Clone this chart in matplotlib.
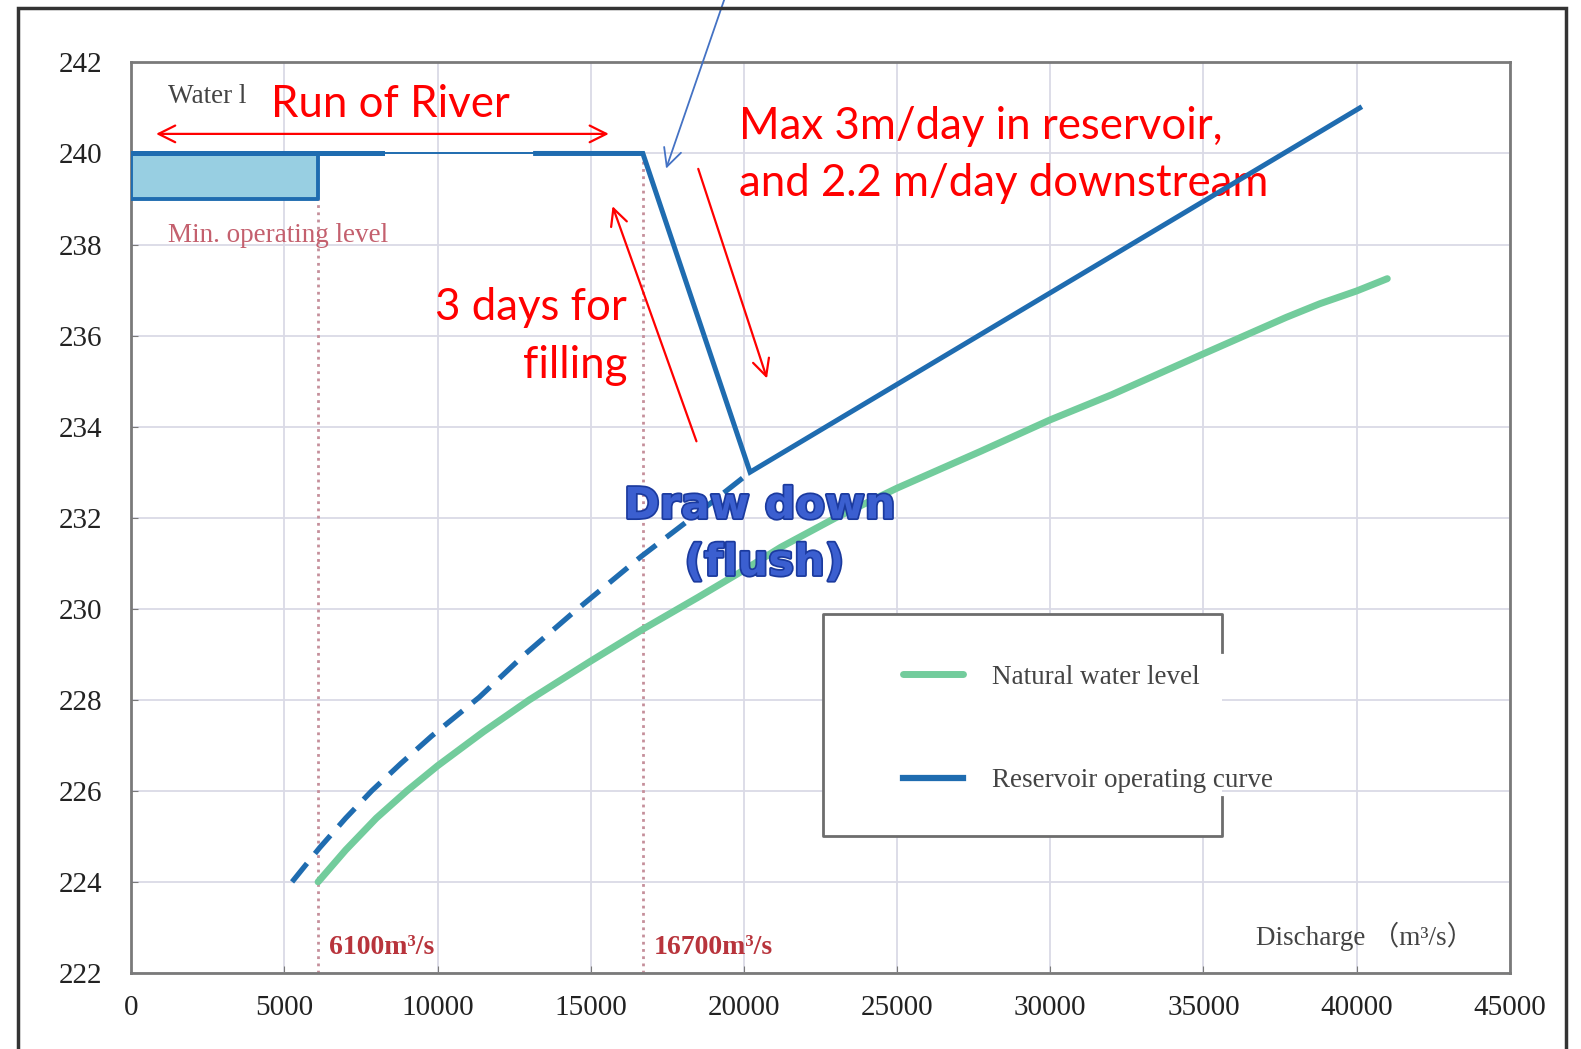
import matplotlib
matplotlib.use("Agg")
import matplotlib.pyplot as plt
import matplotlib.patheffects as pe

# natural water level (green)
nat_q = [6100, 7000, 8000, 9000, 10000, 11500, 13000, 15000, 16700, 18500, 20000, 21200,
         23000, 25000, 27700, 30000, 32000, 35000, 37700, 38800, 40000, 41000]
nat_h = [224.0, 224.7, 225.4, 226.0, 226.55, 227.3, 228.0, 228.85, 229.55, 230.25, 230.85, 231.35,
         232.0, 232.65, 233.45, 234.15, 234.7, 235.6, 236.4, 236.7, 236.98, 237.25]

# reservoir curve, dashed lower part
dash_q = [5250, 6150, 7000, 7850, 8800, 9800, 11350, 12850, 14400, 16650, 18500, 20200]
dash_h = [224.0, 224.75, 225.4, 226.0, 226.6, 227.2, 228.05, 229.0, 229.9, 231.15, 232.1, 233.0]

# reservoir operating curve
op_q = [0, 16700, 20200, 40100]
op_h = [240, 240, 233, 241]
thin_q = [8200, 13200]          # part of the 240 m line drawn thin

# run-of-river box between min and normal level
box_q = [0, 6100]
box_lo = 239
box_hi = 240

# threshold discharges
lim_q = [6100, 16700]
lim_top = [239, 240]
lim_lbl = ["6100m\u00b3/s", "16700m\u00b3/s"]

xticks = list(range(0, 45001, 5000))
yticks = list(range(222, 243, 2))

blue = "#1f6cb0"
green = "#72cc9c"
red = "#ff0000"
serif = "Liberation Serif"
sans = "Lato"

fig = plt.figure(figsize=(15.81, 10.49), dpi=100)
ax = fig.add_axes([0.083, 0.0725, 0.872, 0.868])

ax.fill_between(box_q, box_lo, box_hi, facecolor="#98cfe2", edgecolor=blue, lw=2.8, zorder=3)
ax.vlines(lim_q, 222, lim_top, colors="#c58f9b", linestyles=(0, (1, 1.6)), lw=2, zorder=2)

ax.plot(op_q[:2], op_h[:2], color=blue, lw=1.4, zorder=4)
ax.plot([op_q[0], thin_q[0]], op_h[:2], color=blue, lw=3.6, zorder=4)
ax.plot([thin_q[1]] + op_q[1:], [op_h[0]] + op_h[1:], color=blue, lw=3.6, zorder=4,
        solid_joinstyle="miter")
ax.plot(dash_q, dash_h, color=blue, lw=3.8, dashes=(4.5, 2.4), zorder=4)
green_line, = ax.plot(nat_q, nat_h, color=green, lw=5, zorder=4, solid_capstyle="round")
blue_leg = plt.Line2D([], [], color=blue, lw=4.5)

ax.set_xlim(0, 45000)
ax.set_ylim(222, 242)
ax.set_xticks(xticks)
ax.set_yticks(yticks)
ax.grid(True, color="#dadae6", lw=1.3)
ax.set_axisbelow(True)
for s in ax.spines.values():
    s.set_color("#7a7a7a")
    s.set_linewidth(2)
ax.tick_params(direction="in", length=5, color="#7a7a7a", labelsize=21, labelcolor="#222222")
ax.tick_params(axis="y", pad=21)
ax.tick_params(axis="x", pad=16)
for lab in ax.get_xticklabels() + ax.get_yticklabels():
    lab.set_family(serif)

# legend with its broken frame
ax.add_patch(plt.Rectangle((0.502, 0.15), 0.289, 0.2445, transform=ax.transAxes,
                           facecolor="white", edgecolor="none", zorder=2))
ax.plot([0.791, 0.791, 0.502, 0.502, 0.791, 0.791],
        [0.3525, 0.3945, 0.3945, 0.15, 0.15, 0.193],
        transform=ax.transAxes, color="#6d6d6d", lw=2, zorder=5)
leg = ax.legend([green_line, blue_leg], ["Natural water level", "Reservoir operating curve"],
                loc="center left", bbox_to_anchor=(0.5598, 0.268), frameon=False,
                borderpad=0, borderaxespad=0, handlelength=2.2, handletextpad=1.1,
                labelspacing=2.9, prop={"family": serif, "size": 19.5})
for t in leg.get_texts():
    t.set_color("#444444")

# labels inside the chart
ax.text(1200, 241.26, "Water l", family=serif, size=19.5, color="#444444", va="center")
ax.text(1200, 238.19, "Min. operating level", family=serif, size=19.5, color="#c4606e", va="center")
for q, lbl in zip(lim_q, lim_lbl):
    ax.text(q + 350, 222.55, lbl, family=serif, size=20, weight="bold", color="#b8343c", va="center")
ax.text(36700, 222.8, "Discharge \uff08m\u00b3/s\uff09", family=[serif, "Noto Sans CJK SC"],
        size=19.5, color="#444444", va="center")

# red / blue callouts
ax.text(8450, 241.07, "Run of River", family=sans, size=31.5, color=red, ha="center", va="center")
ax.annotate("", xy=(720, 240.43), xytext=(15680, 240.43),
            arrowprops=dict(arrowstyle="<->", color=red, lw=1.6, mutation_scale=30))
ax.text(19850, 240.6, "Max 3m/day in reservoir,", family=sans, size=31.5, color=red, va="center")
ax.text(19850, 239.34, "and 2.2 m/day downstream", family=sans, size=31.5, color=red, va="center")
ax.text(16180, 236.62, "3 days for", family=sans, size=31.5, color=red, ha="right", va="center")
ax.text(16180, 235.35, "filling", family=sans, size=31.5, color=red, ha="right", va="center")
ax.annotate("", xy=(20780, 235.0), xytext=(18480, 239.72), annotation_clip=False,
            arrowprops=dict(arrowstyle="->", color=red, lw=1.6, mutation_scale=30))
ax.annotate("", xy=(15680, 238.9), xytext=(18480, 233.62), annotation_clip=False,
            arrowprops=dict(arrowstyle="->", color=red, lw=1.6, mutation_scale=30))
ax.annotate("", xy=(17430, 239.61), xytext=(19470, 243.6), annotation_clip=False,
            arrowprops=dict(arrowstyle="->", color="#4472c4", lw=1.3, mutation_scale=32))

fx = [pe.withStroke(linewidth=2.5, foreground="#1b3a9e")]
ax.text(20510, 232.25, "Draw down", family="DejaVu Sans", size=31, weight="bold", color="#3b5fd0",
        ha="center", va="center", path_effects=fx, zorder=6)
ax.text(20670, 231.0, "(flush)", family="DejaVu Sans", size=31, weight="bold", color="#3b5fd0",
        ha="center", va="center", path_effects=fx, zorder=6)

# outer frame of the picture
fig.add_artist(plt.Rectangle((0.0115, -0.01), 0.979, 1.0024, transform=fig.transFigure,
                             fill=False, edgecolor="#333333", lw=2.5))

fig.savefig("out.png", dpi=100)
